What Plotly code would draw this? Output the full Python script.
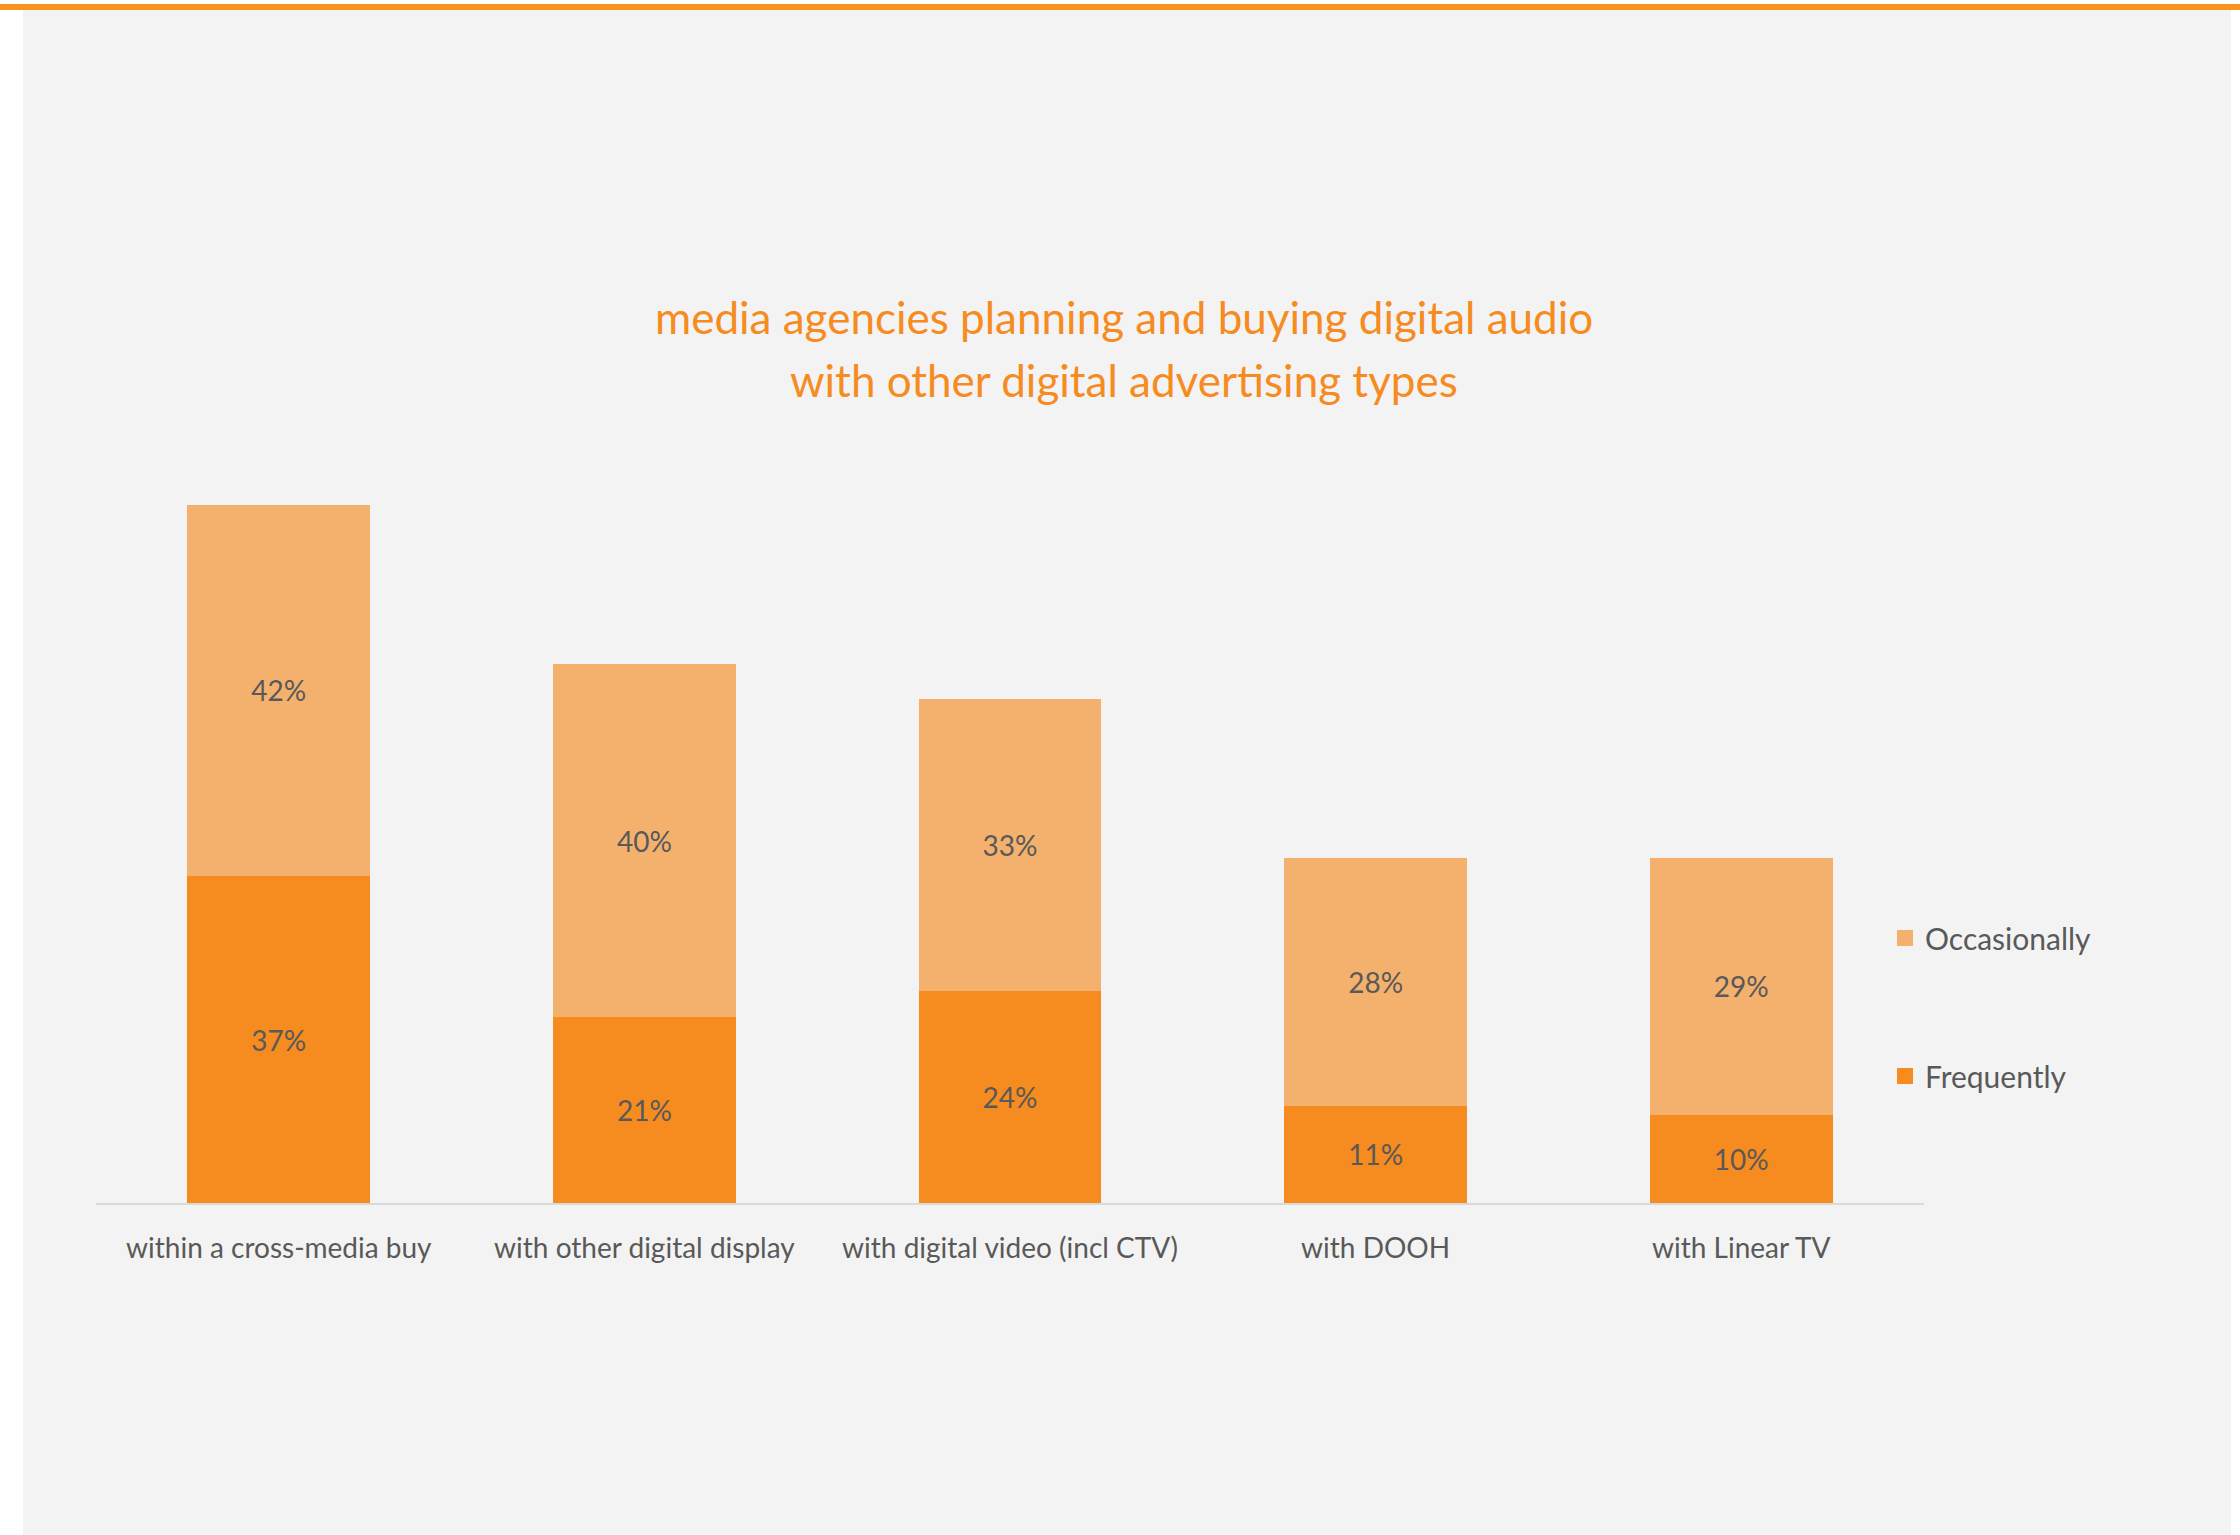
import plotly.graph_objects as go

# Survey results: share of media agencies combining digital audio with other ad types
categories = [
    "within a cross-media buy",
    "with other digital display",
    "with digital video (incl CTV)",
    "with DOOH",
    "with Linear TV",
]
frequently = [37, 21, 24, 11, 10]
occasionally = [42, 40, 33, 28, 29]

title_lines = [
    "media agencies planning and buying digital audio",
    "with other digital advertising types",
]

ORANGE = "#F68B1F"
LIGHT_ORANGE = "#F4B16D"
TEXT_GREY = "#595959"
PANEL_GREY = "#F3F3F3"
FONT = "Lato"

W, H = 2240, 1535
M_L, M_R, M_T, M_B = 96, 316, 496, 332
plot_w = W - M_L - M_R
plot_h = H - M_T - M_B


def px_x(px):
    return (px - M_L) / plot_w


def px_y(py):
    return (H - M_B - py) / plot_h


fig = go.Figure()
series = [
    ("Frequently", frequently, ORANGE),
    ("Occasionally", occasionally, LIGHT_ORANGE),
]
for name, values, color in series:
    fig.add_trace(go.Bar(
        name=name,
        x=categories,
        y=values,
        marker=dict(color=color, line=dict(width=0)),
        text=[f"{v}%" for v in values],
        textposition="inside",
        insidetextanchor="middle",
        textangle=0,
        textfont=dict(family=FONT, size=28, color=TEXT_GREY),
        showlegend=False,
        hoverinfo="skip",
    ))

# legend entries with larger square swatches, Occasionally listed first
for rank, (name, values, color) in zip([2, 1], series):
    fig.add_trace(go.Scatter(
        name=name,
        x=[None], y=[None],
        mode="markers",
        marker=dict(symbol="square", size=19, color=color),
        legendgroup=name,
        legendrank=rank,
        hoverinfo="skip",
    ))

shapes = [
    # grey card behind the chart
    dict(type="rect", xref="paper", yref="paper", layer="below",
         x0=px_x(23), x1=px_x(2231), y0=px_y(1535), y1=px_y(10),
         fillcolor=PANEL_GREY, line=dict(width=0)),
    # orange accent rule along the top
    dict(type="rect", xref="paper", yref="paper", layer="below",
         x0=px_x(0), x1=px_x(2240), y0=px_y(10), y1=px_y(4),
         fillcolor="#F7941D", line=dict(width=0)),
]

for line, y_px in zip(title_lines, [317, 380]):
    fig.add_annotation(
        text=line,
        xref="paper", yref="paper",
        x=px_x(1124), y=px_y(y_px),
        xanchor="center", yanchor="middle",
        showarrow=False, align="center",
        font=dict(family=FONT, size=44, color=ORANGE),
    )

fig.update_layout(
    width=W, height=H,
    margin=dict(l=M_L, r=M_R, t=M_T, b=M_B, pad=0),
    barmode="stack",
    bargap=0.5,
    paper_bgcolor="white",
    plot_bgcolor="rgba(0,0,0,0)",
    shapes=shapes,
    showlegend=True,
    legend=dict(
        x=px_x(1885), y=px_y(912),
        xanchor="left", yanchor="top",
        traceorder="grouped",
        tracegroupgap=96,
        itemsizing="trace",
        font=dict(family=FONT, size=30, color=TEXT_GREY),
        bgcolor="rgba(0,0,0,0)",
        itemwidth=30,
    ),
    xaxis=dict(
        showgrid=False,
        showline=True, linecolor="#D9D9D9", linewidth=2,
        ticks="outside", ticklen=19, tickcolor="rgba(0,0,0,0)",
        tickfont=dict(family=FONT, size=28, color=TEXT_GREY),
        fixedrange=True,
    ),
    yaxis=dict(
        range=[0, 80],
        visible=False,
        showgrid=False,
        zeroline=False,
        fixedrange=True,
    ),
)

fig.write_html("out.html")
